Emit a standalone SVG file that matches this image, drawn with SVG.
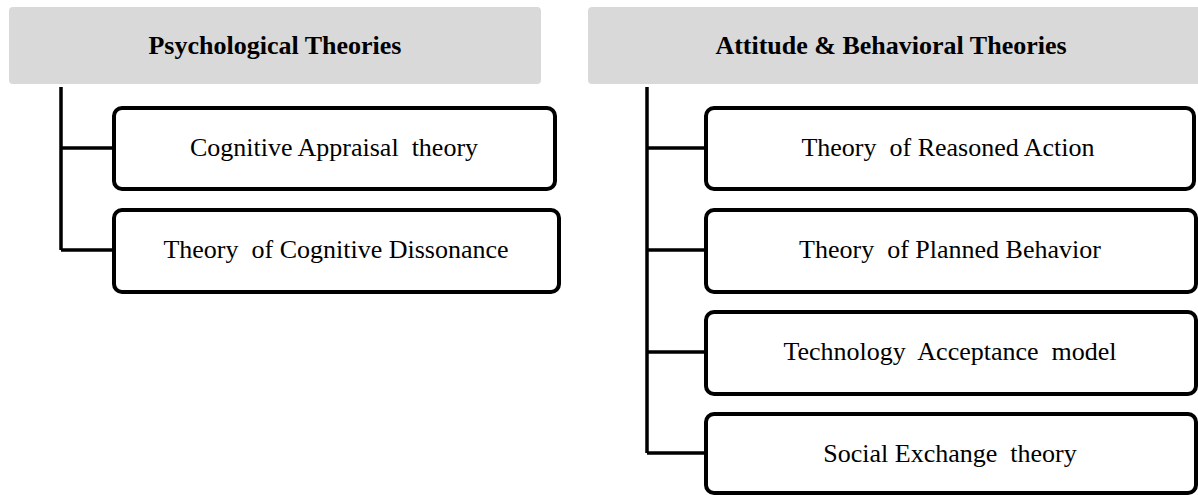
<svg xmlns="http://www.w3.org/2000/svg" width="1198" height="495" viewBox="0 0 1198 495">
<style>
.hdr{fill:#d9d9d9;stroke:none}
.box{fill:#ffffff;stroke:#000000;stroke-width:4}
.conn{fill:none;stroke:#000000;stroke-width:3.5}
.ht{font-family:"Liberation Serif","Times New Roman",serif;font-weight:bold;font-size:26px;fill:#000;text-anchor:middle;white-space:pre}
.bt{font-family:"Liberation Serif","Times New Roman",serif;font-size:26px;fill:#000;text-anchor:middle;white-space:pre}
</style>
<rect width="1198" height="495" fill="#ffffff"/>
<g id="connectors">
<path class="conn" d="M61,87 V250 M61,148 H114 M61,250 H114"/>
<path class="conn" d="M647,87 V453 M647,148 H706 M647,250 H706 M647,352 H706 M647,453 H706"/>
</g>
<g id="h1"><rect class="hdr" x="9" y="7" width="532" height="77" rx="4"/><text class="ht" x="275" y="54">Psychological Theories</text></g>
<g id="h2"><rect class="hdr" x="588" y="7" width="620" height="77" rx="4"/><text class="ht" x="891" y="54">Attitude &amp; Behavioral Theories</text></g>
<g id="n1"><rect class="box" x="114" y="108" width="441" height="81" rx="8"/><text class="bt" x="334" y="156">Cognitive Appraisal  theory</text></g>
<g id="n2"><rect class="box" x="114" y="210" width="445" height="82" rx="8"/><text class="bt" x="336" y="258">Theory  of Cognitive Dissonance</text></g>
<g id="n3"><rect class="box" x="706" y="108" width="488" height="81" rx="8"/><text class="bt" x="948" y="156">Theory  of Reasoned Action</text></g>
<g id="n4"><rect class="box" x="706" y="210" width="490" height="82" rx="8"/><text class="bt" x="950" y="258">Theory  of Planned Behavior</text></g>
<g id="n5"><rect class="box" x="706" y="312" width="490" height="82" rx="8"/><text class="bt" x="950" y="360">Technology  Acceptance  model</text></g>
<g id="n6"><rect class="box" x="706" y="414" width="490" height="79" rx="8"/><text class="bt" x="950" y="462">Social Exchange  theory</text></g>
</svg>
